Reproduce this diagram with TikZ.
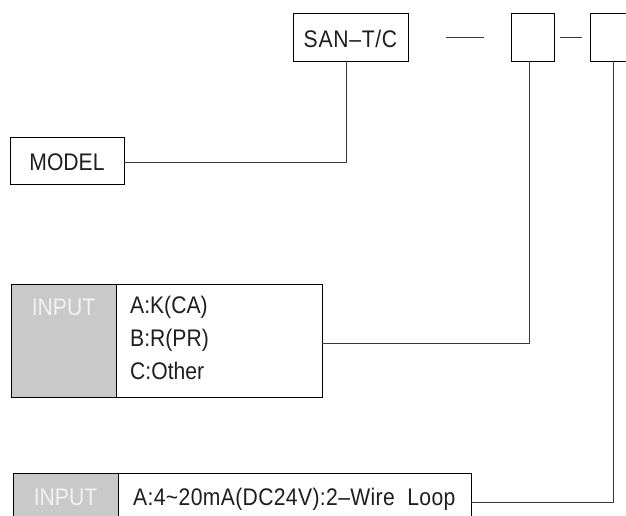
\documentclass[tikz,border=0pt]{standalone}
\usepackage{fontspec}
\setmainfont{Liberation Sans}[FakeStretch=0.88]
\definecolor{boxgray}{HTML}{C9C9C9}
\definecolor{inktext}{HTML}{1E1E1E}
\definecolor{lineink}{HTML}{3A3A3A}
\tikzset{
  box/.style={draw=black, line width=1pt, inner sep=0pt, outer sep=0pt, text=inktext, font=\fontsize{24}{33}\selectfont},
  graybox/.style={box, fill=boxgray},
  lbl/.style={inner sep=0pt, text=inktext, font=\fontsize{24}{33}\selectfont},
  inlbl/.style={inner sep=0pt, text=white!95!black, font=\fontsize{24}{33}\selectfont},
  wire/.style={draw=lineink, line width=1pt},
}
\begin{document}
\begin{tikzpicture}[x=1pt, y=-1pt]
\useasboundingbox (0,0) rectangle (626,515);
% top code boxes
\node[box, minimum width=115pt, minimum height=48pt] (san) at (350.5,37) {};
\node[lbl, anchor=base] (sant) at (350.5,47) {\addfontfeature{LetterSpace=3}SAN–T/C};
\node[box, minimum width=43pt, minimum height=48pt] (b2) at (532.5,37) {};
\node[box, minimum width=70pt, minimum height=48pt] (b3) at (625,37) {};
\coordinate (d1a) at (446,37);
\coordinate (d1b) at (484,37);
\coordinate (d2a) at (560,37);
\coordinate (d2b) at (582,37);
\draw[wire] (d1a) -- (d1b);
\draw[wire] (d2a) -- (d2b);
% model
\node[box, minimum width=114pt, minimum height=47pt] (model) at (67,160.5) {};
\node[lbl, anchor=base] (modelt) at (67,170) {MODEL};
\draw[wire] ([yshift=-1.5pt]model.east) -| ([xshift=-4.5pt]san.south);
% input 1
\node[graybox, minimum width=105pt, minimum height=113pt] (in1g) at (63.5,340.5) {};
\node[box, minimum width=206pt, minimum height=113pt] (in1w) at (219,340.5) {};
\node[inlbl, anchor=base] (in1t) at (63.5,315) {INPUT};
\node[lbl, anchor=base west] (in1a) at (130,313) {A:K(CA)};
\node[lbl, anchor=base west] (in1b) at (130,346) {B:R(PR)};
\node[lbl, anchor=base west] (in1c) at (130,379) {C:Other};
\draw[wire] ([yshift=-2.5pt]in1w.east) -| ([xshift=-3.5pt]b2.south);
% input 2
\node[graybox, minimum width=105pt, minimum height=58pt] (in2g) at (65.5,502) {};
\node[box, minimum width=353pt, minimum height=58pt] (in2w) at (294.5,502) {};
\node[inlbl, anchor=base] (in2t) at (65.5,505) {INPUT};
\node[lbl, anchor=base west] (in2a) at (133,505) {\addfontfeature{LetterSpace=1.5}A:4\textasciitilde 20mA(DC24V):2–Wire\ \ Loop};
\draw[wire] (in2w.east) -| ([xshift=-12pt]b3.south);
\end{tikzpicture}
\end{document}
